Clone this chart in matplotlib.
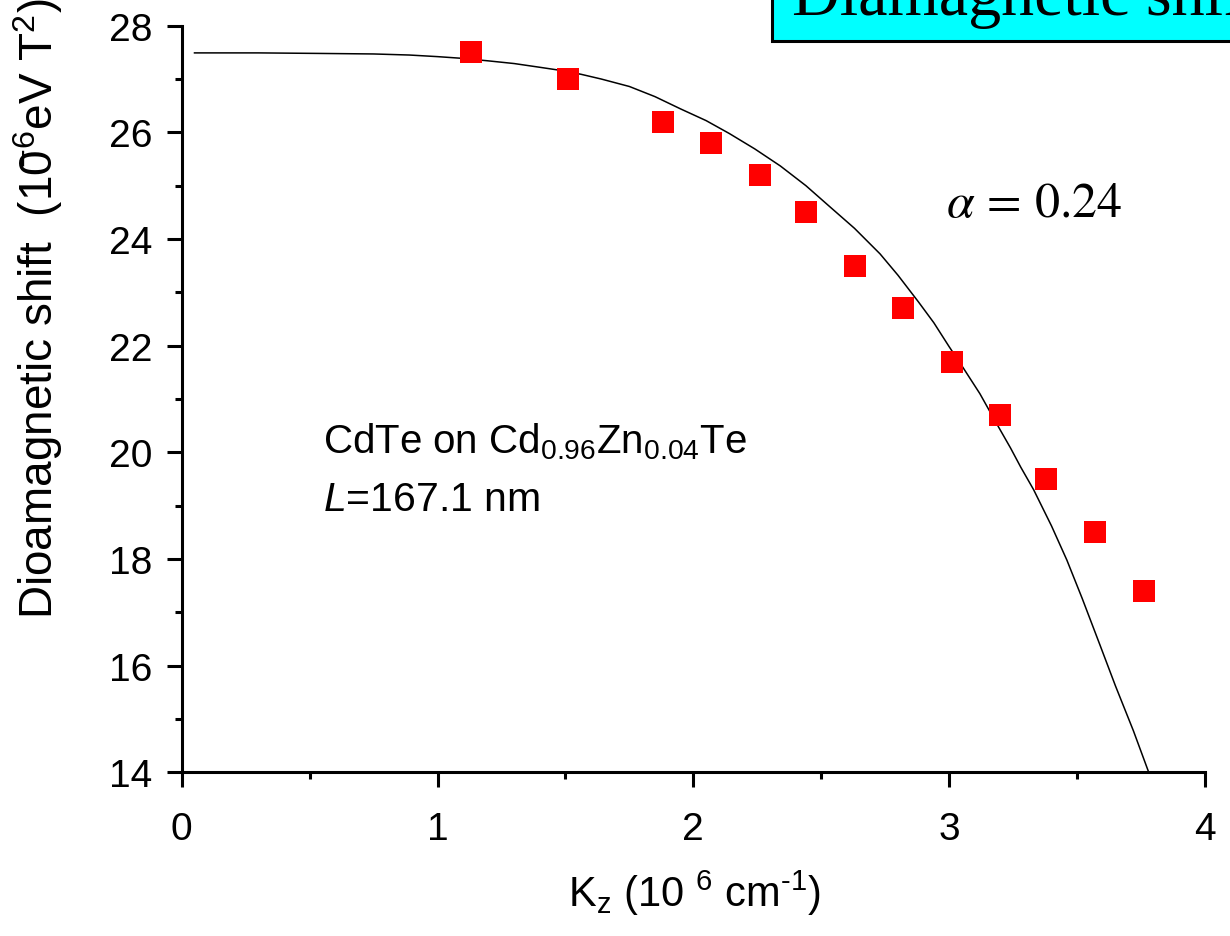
import matplotlib
matplotlib.use("Agg")
import matplotlib.pyplot as plt
from matplotlib.patches import Rectangle

plt.rcParams["font.family"] = ["Liberation Sans", "DejaVu Sans"]
plt.rcParams["mathtext.fontset"] = "custom"
plt.rcParams["mathtext.rm"] = "Liberation Sans"
plt.rcParams["mathtext.it"] = "Liberation Sans:italic"

# measured diamagnetic shift (red squares)
kz_data = [1.13, 1.51, 1.88, 2.07, 2.26, 2.44, 2.63, 2.82, 3.01, 3.20, 3.38, 3.57, 3.76]
shift_data = [27.5, 27.0, 26.2, 25.8, 25.2, 24.5, 23.5, 22.7, 21.7, 20.7, 19.5, 18.5, 17.4]

# model curve (alpha = 0.24)
kz_fit = [0.05, 0.30, 0.54, 0.75, 0.89, 1.00, 1.09, 1.20, 1.30, 1.40, 1.47, 1.56, 1.64,
          1.75, 1.85, 1.95, 2.05, 2.14, 2.24, 2.34, 2.44, 2.53, 2.63, 2.73, 2.80, 2.88,
          2.94, 3.00, 3.05, 3.12, 3.19, 3.24, 3.28, 3.33, 3.40, 3.46, 3.52, 3.59, 3.65,
          3.72, 3.78]
shift_fit = [27.49, 27.49, 27.48, 27.47, 27.45, 27.42, 27.39, 27.34, 27.29, 27.22, 27.17, 27.09, 27.00,
             26.86, 26.67, 26.44, 26.22, 25.98, 25.69, 25.37, 25.00, 24.62, 24.20, 23.72, 23.32, 22.82,
             22.43, 21.98, 21.62, 21.10, 20.50, 20.08, 19.72, 19.30, 18.62, 17.98, 17.26, 16.38, 15.62,
             14.78, 14.00]

W, H = 1230, 937
fig = plt.figure(figsize=(W / 100, H / 100), dpi=100)
ax = fig.add_axes([181.7 / W, 1 - 773.3 / H, (1205 - 181.7) / W, (773.3 - 26.7) / H])

ax.plot(kz_fit, shift_fit, color="black", lw=1.1)
ax.plot(kz_data, shift_data, "s", color="#ff0000", ms=15.8, mec="#ff0000", mew=0, clip_on=False)

ax.set_xlim(0, 4); ax.set_ylim(14, 28)
ax.set_xticks([0, 1, 2, 3, 4]); ax.set_xticks([0.5, 1.5, 2.5, 3.5], minor=True)
ax.set_yticks(range(14, 29, 2)); ax.set_yticks(range(15, 28, 2), minor=True)
for s in ("top", "right"):
    ax.spines[s].set_visible(False)
for s in ("left", "bottom"):
    ax.spines[s].set_linewidth(2.2)
ax.tick_params(which="major", direction="out", length=10.8, width=2.2, labelsize=28)
ax.tick_params(which="minor", direction="out", length=5, width=2.2)
ax.tick_params(axis="x", which="major", pad=17.4)
ax.tick_params(axis="y", which="major", pad=10.5)

fig.text(694 / W, 1 - 893 / H, r"K$_\mathregular{z}$ (10 $^\mathregular{6}$ cm$^\text{-1}$)",
         fontsize=30, ha="center", va="center")
fig.text(38 / W, 1 - 309 / H, r"Dioamagnetic shift  (10$^{\!\!\!\!\mathregular{-6}}$eV T$^\mathregular{2}$)",
         fontsize=33, rotation=90, ha="center", va="center")

fig.text(323 / W, 1 - 453 / H, r"CdTe on Cd$_\mathregular{0.96}$Zn$_\mathregular{0.04}$Te",
         fontsize=29, ha="left", va="baseline")
fig.text(323 / W, 1 - 511 / H, r"$L$=167.1 nm", fontsize=29.5, ha="left", va="baseline")
fig.text(946 / W, 1 - 216.7 / H, r"$\alpha\,=\,0.24$", math_fontfamily="stix",
         fontsize=36, ha="left", va="baseline")

fig.patches.append(Rectangle((771.7 / W, 1 - 41.7 / H), 0.5, 0.2, transform=fig.transFigure,
                             facecolor="#00ffff", edgecolor="black", lw=2.2, figure=fig))
fig.text(792 / W, 1 - 15 / H, "Diamagnetic shift", family="Liberation Serif",
         fontsize=47.5, ha="left", va="baseline")

fig.savefig("out.png", dpi=100)
